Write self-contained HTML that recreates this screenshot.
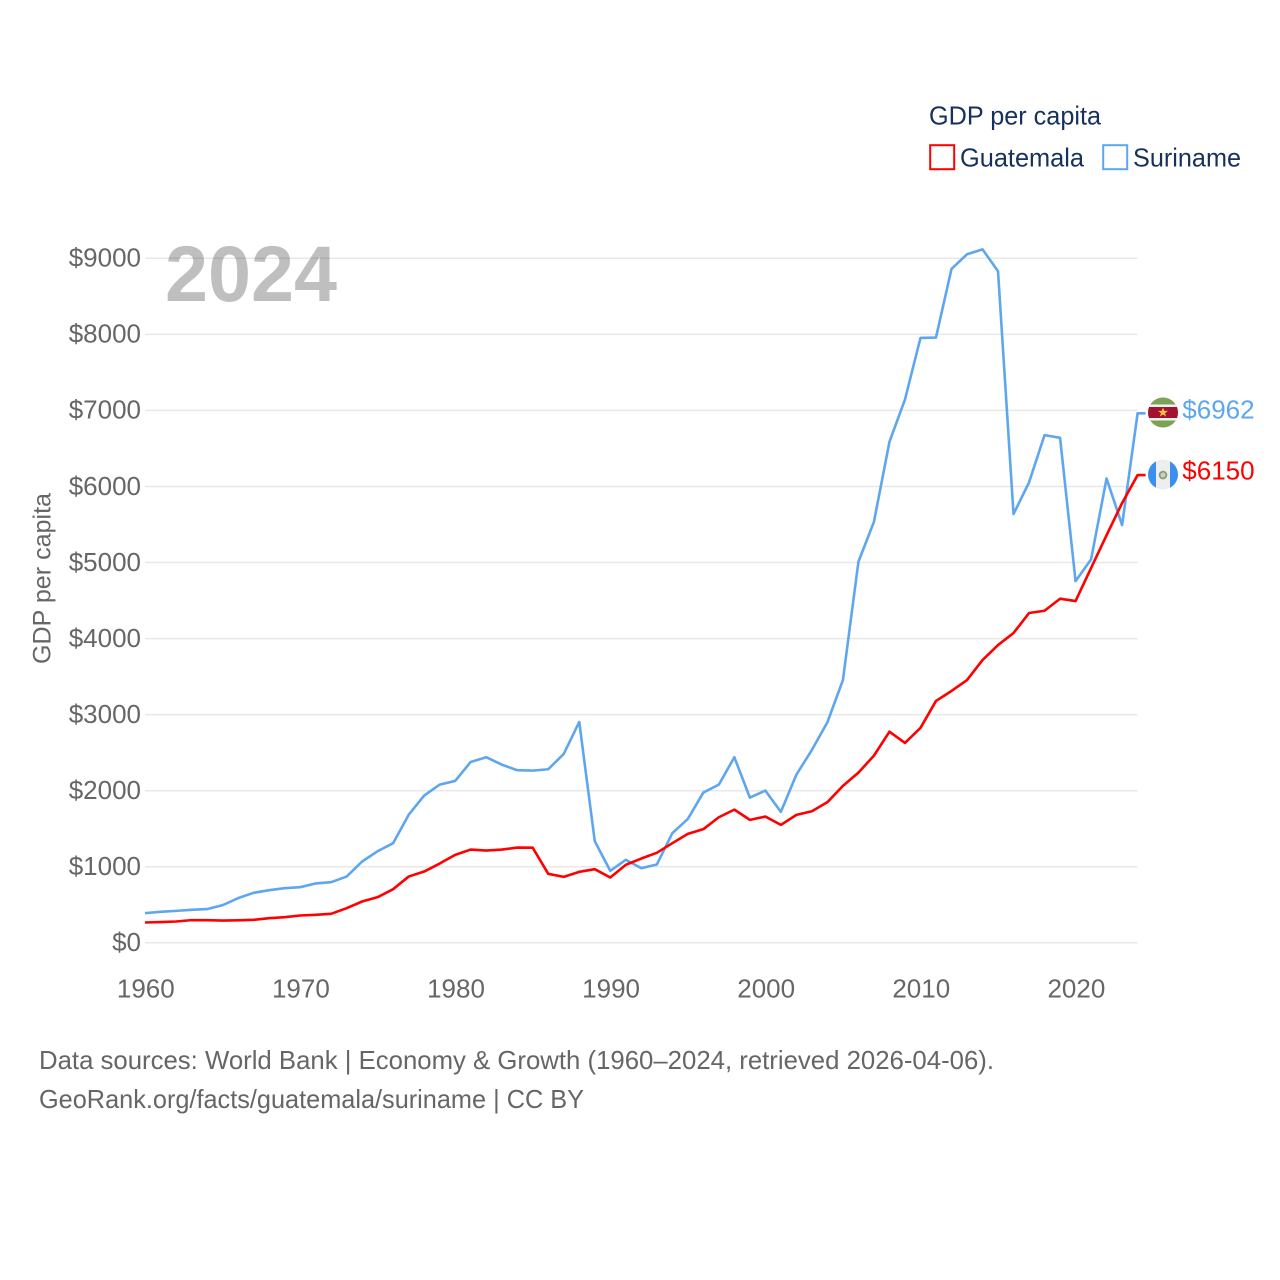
<!DOCTYPE html>
<html lang="en">
<head>
<meta charset="utf-8">
<title>GDP per capita: Guatemala and Suriname</title>
<style>
html,body{margin:0;padding:0;background:#fff;}
svg{display:block;font-family:"Liberation Sans",sans-serif;}
</style>
</head>
<body>
<svg id="chart" xmlns="http://www.w3.org/2000/svg" width="1280" height="1280" viewBox="0 0 1280 1280">
  <defs>
    <clipPath id="clip-sr"><circle cx="0" cy="0" r="15"></circle></clipPath>
    <clipPath id="clip-gt"><circle cx="0" cy="0" r="15"></circle></clipPath>
  </defs>
  <g id="grid"></g>
  <g id="y-ticks"></g>
  <g id="x-ticks"></g>
  <text x="165" y="301" font-size="79" font-weight="700" fill="#000000" fill-opacity="0.25" textLength="172" lengthAdjust="spacingAndGlyphs">2024</text>
  <text transform="translate(50.5,664) rotate(-90)" font-size="25" fill="#666666" textLength="171" lengthAdjust="spacingAndGlyphs">GDP per capita</text>
  <g id="series"></g>
  <g id="flags"></g>
  <g>
    <text x="929" y="124.5" font-size="26" fill="#16325c" textLength="172" lengthAdjust="spacingAndGlyphs">GDP per capita</text>
    <rect x="930.2" y="145.2" width="24" height="24" fill="none" stroke="#ff0000" stroke-width="2"></rect>
    <text x="960" y="166.5" font-size="26" fill="#16325c" textLength="124" lengthAdjust="spacingAndGlyphs">Guatemala</text>
    <rect x="1103.2" y="145.2" width="24" height="24" fill="none" stroke="#5ea6ee" stroke-width="2"></rect>
    <text x="1133" y="166.5" font-size="26" fill="#16325c" textLength="108" lengthAdjust="spacingAndGlyphs">Suriname</text>
  </g>
  <text x="39" y="1069" font-size="26" fill="#666666" textLength="955" lengthAdjust="spacingAndGlyphs">Data sources: World Bank | Economy &amp; Growth (1960–2024, retrieved 2026-04-06).</text>
  <text x="39" y="1108" font-size="26" fill="#666666" textLength="545" lengthAdjust="spacingAndGlyphs">GeoRank.org/facts/guatemala/suriname | CC BY</text>
</svg>
<script>
const startYear = 1960;
const yTickValues = [0,1000,2000,3000,4000,5000,6000,7000,8000,9000];
const xTickValues = [1960,1970,1980,1990,2000,2010,2020];
const guatemalaValues = [267,272,280,298,298,293,296,302,324,337,359,368,381,455,543,600,705,871,937,1042,1156,1226,1213,1226,1252,1250,907,867,933,968,858,1025,1108,1183,1310,1432,1494,1651,1751,1616,1660,1550,1682,1730,1849,2063,2238,2461,2776,2628,2825,3180,3311,3455,3718,3915,4073,4336,4366,4524,4493,4927,5360,5781,6150];
const surinameValues = [390,407,420,434,443,495,587,657,692,718,731,780,797,871,1069,1205,1310,1682,1936,2080,2128,2378,2440,2343,2269,2264,2282,2483,2904,1336,946,1091,981,1029,1441,1629,1975,2080,2440,1909,2001,1721,2211,2536,2900,3455,5010,5535,6587,7143,7953,7958,8860,9053,9118,8829,5637,6053,6675,6640,4756,5041,6105,5492,6962];

const SVG_NS = 'http://www.w3.org/2000/svg';
const xScale = function (year) { return 145 + (year - 1960) * (992.6 / 64); };
const yScale = function (value) { return 942.8 - value * (684.5 / 9000); };

function make(tag, attrs, parent, txt) {
  const el = document.createElementNS(SVG_NS, tag);
  Object.keys(attrs).forEach(function (k) { el.setAttribute(k, attrs[k]); });
  if (txt !== undefined) el.textContent = txt;
  parent.appendChild(el);
  return el;
}

const gridGroup = document.getElementById('grid');
const yGroup = document.getElementById('y-ticks');
yTickValues.forEach(function (v) {
  const line = make('line', {x1: 145, x2: 1137.6, y1: yScale(v), y2: yScale(v), stroke: '#e8e8e8', 'stroke-width': 1.5}, gridGroup);
  
  
  const label = '$' + v;
  const t = make('text', {x: 141, y: yScale(v) + 8.3, 'font-size': 26, fill: '#666666', 'text-anchor': 'end'}, yGroup, label);
  
  
});

const xGroup = document.getElementById('x-ticks');
xTickValues.forEach(function (y) {
  const t = make('text', {x: xScale(y) + 0.8, y: 997.5, 'font-size': 26, fill: '#666666', 'text-anchor': 'middle'}, xGroup, String(y));
  
  
});

const seriesGroup = document.getElementById('series');
function drawSeries(values, color, group) {
  const pts = values.map(function (v, i) { return xScale(startYear + i).toFixed(2) + ',' + yScale(v).toFixed(2); });
  const lastY = yScale(values[values.length - 1]);
  const lastX = xScale(startYear + values.length - 1);
  pts.push((lastX + 8).toFixed(2) + ',' + lastY.toFixed(2));
  return make('polyline', {points: pts.join(' '), fill: 'none', stroke: color, 'stroke-width': 2.6, 'stroke-linejoin': 'round'}, group);
}
const surinameLine = drawSeries(surinameValues, '#5ea6ee', seriesGroup);


const guatemalaLine = drawSeries(guatemalaValues, '#ff0000', seriesGroup);



const flagGroup = document.getElementById('flags');
const cx = 1163;
const srValue = surinameValues[surinameValues.length - 1];
const gtValue = guatemalaValues[guatemalaValues.length - 1];

const sr = make('g', {transform: 'translate(' + cx + ',' + (yScale(srValue) - 0.8) + ')', 'clip-path': 'url(#clip-sr)'}, flagGroup);


make('rect', {x: -15, y: -15, width: 30, height: 30, fill: '#7aa352'}, sr);
make('rect', {x: -15, y: -8, width: 30, height: 16, fill: '#f2f2f2'}, sr);
make('rect', {x: -15, y: -5.5, width: 30, height: 11, fill: '#a5122f'}, sr);
make('polygon', {points: '0,-5 1.3,-1.6 5,-1.6 2,0.6 3.1,4 0,2 -3.1,4 -2,0.6 -5,-1.6 -1.3,-1.6', fill: '#f5c242'}, sr);

const gt = make('g', {transform: 'translate(' + cx + ',' + (yScale(gtValue) - 0.5) + ')', 'clip-path': 'url(#clip-gt)'}, flagGroup);


make('rect', {x: -15, y: -15, width: 30, height: 30, fill: '#eeeeee'}, gt);
make('rect', {x: -15, y: -15, width: 8, height: 30, fill: '#3a8ff0'}, gt);
make('rect', {x: 7, y: -15, width: 8, height: 30, fill: '#3a8ff0'}, gt);
make('circle', {cx: 0, cy: 0.5, r: 3.4, fill: '#c8d0c0', stroke: '#8a9a7a', 'stroke-width': 1.8}, gt);

const srLabel = make('text', {x: 1182.3, y: yScale(srValue) + 5, 'font-size': 26, fill: '#5ea6ee'}, flagGroup, '$' + srValue);


const gtLabel = make('text', {x: 1182.3, y: yScale(gtValue) + 4.6, 'font-size': 26, fill: '#ff0000'}, flagGroup, '$' + gtValue);


</script>
</body>
</html>
